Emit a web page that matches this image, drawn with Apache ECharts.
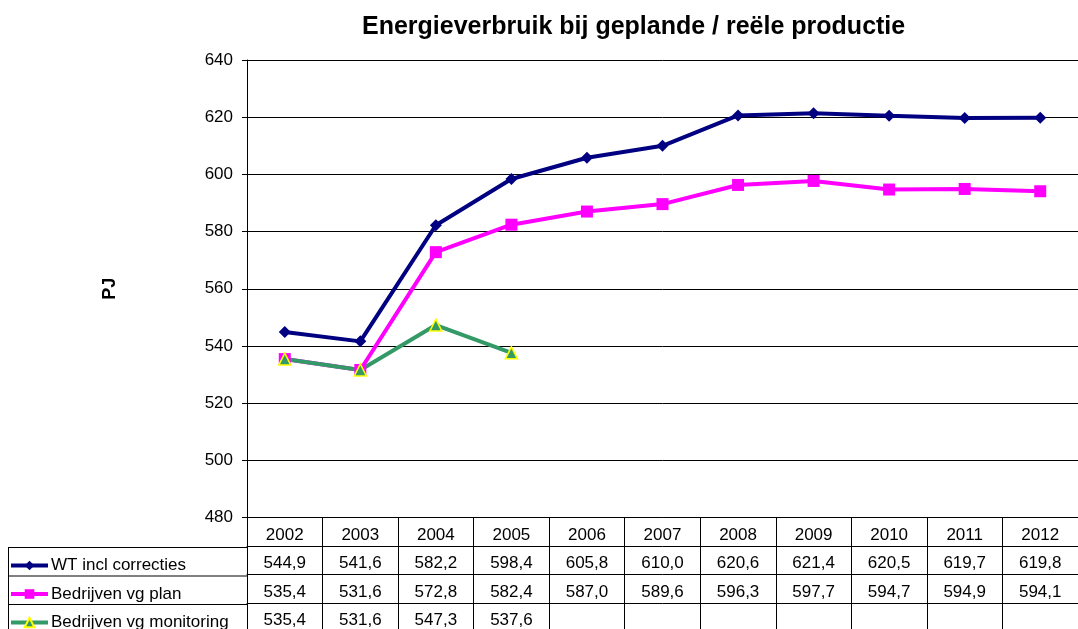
<!DOCTYPE html>
<html>
<head>
<meta charset="utf-8">
<script src="https://cdn.jsdelivr.net/npm/echarts@6/dist/echarts.min.js"></script>
<style>
  html, body { margin: 0; padding: 0; background: #fff; }
  #chart { width: 1078px; height: 629px; }
</style>
</head>
<body>
<div id="chart"></div>
<script>
// data
var years = ['2002', '2003', '2004', '2005', '2006', '2007', '2008', '2009', '2010', '2011', '2012'];
var wtValues = [544.9, 541.6, 582.2, 598.4, 605.8, 610.0, 620.6, 621.4, 620.5, 619.7, 619.8];
var planValues = [535.4, 531.6, 572.8, 582.4, 587.0, 589.6, 596.3, 597.7, 594.7, 594.9, 594.1];
var monitoringValues = [535.4, 531.6, 547.3, 537.6, null, null, null, null, null, null, null];
var seriesNames = ['WT incl correcties', 'Bedrijven vg plan', 'Bedrijven vg monitoring'];
var yMin = 480, yMax = 640, yStep = 20;

var FONT = 'Liberation Sans, Arial, sans-serif';
var ROW = 28.5;
var TXT = 17;

function fmt(v) {
  return v == null ? '' : v.toFixed(1).replace('.', ',');
}

// each table row is an extra category axis pushed down by offset
function tableAxis(values, offset, tickLen) {
  return {
    type: 'category',
    gridIndex: 0,
    position: 'bottom',
    offset: offset,
    data: values.map(fmt),
    axisLine: { lineStyle: { color: '#000', width: 1 } },
    axisTick: { show: true, length: tickLen, interval: 0, lineStyle: { color: '#000' } },
    axisLabel: { interval: 0, margin: 9, fontSize: TXT, color: '#000', fontFamily: FONT },
    splitLine: { show: false }
  };
}

function rowLegend(name, top) {
  return {
    data: [name],
    left: 9,
    top: top,
    padding: 0,
    itemWidth: 37,
    itemHeight: 12,
    selectedMode: false,
    lineStyle: { width: 4 },
    textStyle: { fontSize: TXT, color: '#000', fontFamily: FONT, padding: [0, 0, 0, -2] }
  };
}

var myChart = echarts.init(document.getElementById('chart'));

myChart.setOption({
  animation: false,
  title: {
    text: 'Energieverbruik bij geplande / reële productie',
    left: 362,
    top: 15,
    padding: 0,
    textStyle: { fontSize: 25, fontWeight: 'bold', color: '#000', fontFamily: FONT }
  },
  legend: [
    rowLegend(seriesNames[0], 547 + 10),
    rowLegend(seriesNames[1], 547 + ROW + 10),
    rowLegend(seriesNames[2], 547 + ROW * 2 + 10)
  ],
  grid: { left: 247, top: 60, width: 833, height: 458, containLabel: false },
  xAxis: [
    {
      type: 'category',
      position: 'bottom',
      data: years,
      boundaryGap: true,
      axisLine: { lineStyle: { color: '#000' } },
      axisTick: { show: true, length: ROW, interval: 0, lineStyle: { color: '#000' } },
      axisLabel: { interval: 0, margin: 9, fontSize: TXT, color: '#000', fontFamily: FONT },
      splitLine: { show: false }
    },
    tableAxis(wtValues, ROW, ROW),
    tableAxis(planValues, ROW * 2, ROW),
    tableAxis(monitoringValues, ROW * 3, 40)
  ],
  yAxis: {
    type: 'value',
    min: yMin,
    max: yMax,
    interval: yStep,
    name: 'PJ',
    nameLocation: 'middle',
    nameRotate: 90,
    nameGap: 128,
    nameTextStyle: { fontSize: 18, fontWeight: 'bold', color: '#000', fontFamily: FONT },
    axisLine: { show: true, lineStyle: { color: '#000' } },
    axisTick: { show: true, length: 5, lineStyle: { color: '#000' } },
    axisLabel: { margin: 14, fontSize: TXT, color: '#000', fontFamily: FONT },
    splitLine: { show: true, lineStyle: { color: '#000', width: 1 } }
  },
  series: [
    {
      name: seriesNames[0],
      type: 'line',
      data: wtValues,
      symbol: 'diamond',
      symbolSize: 12,
      lineStyle: { color: '#000080', width: 4 },
      itemStyle: { color: '#000080' }
    },
    {
      name: seriesNames[1],
      type: 'line',
      data: planValues,
      symbol: 'rect',
      symbolSize: 12,
      lineStyle: { color: '#ff00ff', width: 4 },
      itemStyle: { color: '#ff00ff' }
    },
    {
      name: seriesNames[2],
      type: 'line',
      data: monitoringValues,
      symbol: 'triangle',
      symbolSize: 12,
      lineStyle: { color: '#339966', width: 4 },
      itemStyle: { color: '#339966', borderColor: '#ffff00', borderWidth: 1.5 }
    }
  ],
  // row header cells of the data table
  graphic: [
    { type: 'line', shape: { x1: 8, y1: 547.5, x2: 247, y2: 547.5 }, style: { stroke: '#000', lineWidth: 1 } },
    { type: 'line', shape: { x1: 8, y1: 547.5 + ROW, x2: 247, y2: 547.5 + ROW }, style: { stroke: '#000', lineWidth: 1 } },
    { type: 'line', shape: { x1: 8, y1: 547.5 + ROW * 2, x2: 247, y2: 547.5 + ROW * 2 }, style: { stroke: '#000', lineWidth: 1 } },
    { type: 'line', shape: { x1: 8.5, y1: 547, x2: 8.5, y2: 629 }, style: { stroke: '#000', lineWidth: 1 } }
  ]
});
</script>
</body>
</html>
